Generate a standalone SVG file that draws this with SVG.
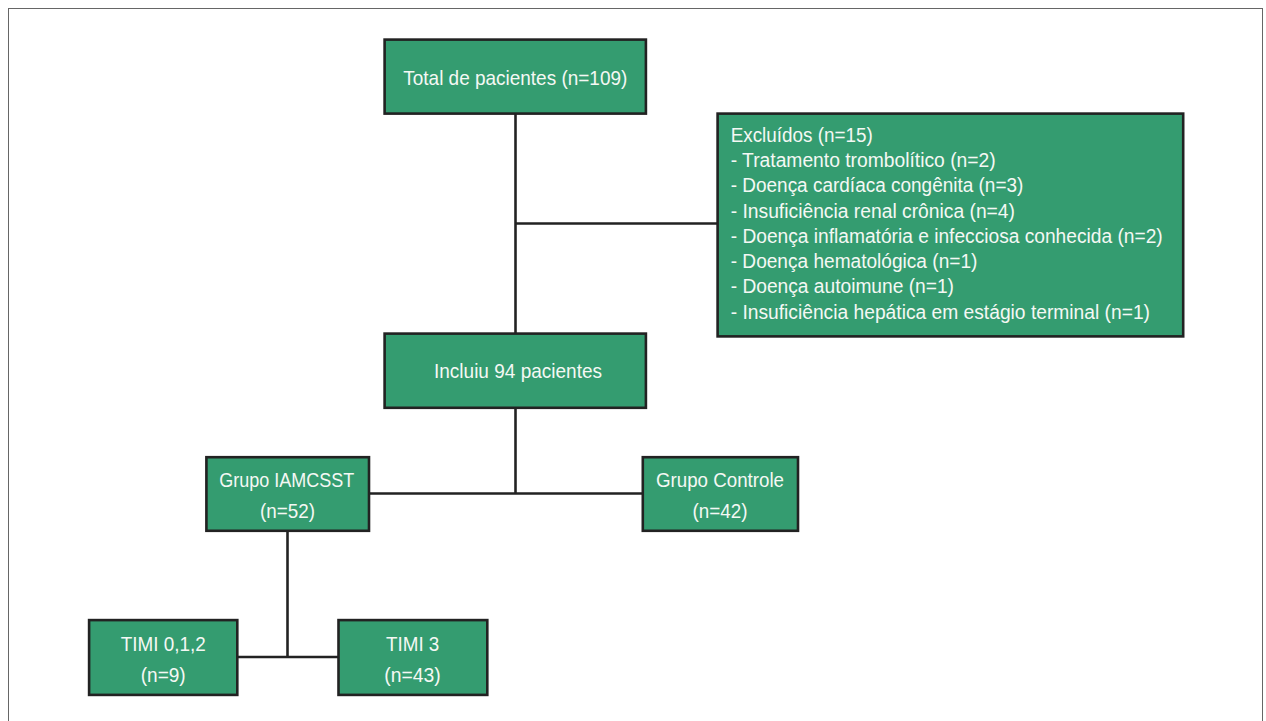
<svg xmlns="http://www.w3.org/2000/svg" width="1266" height="721" viewBox="0 0 1266 721">
<style>
.box{fill:#349c70;stroke:#222;stroke-width:2.6}
.t{font-family:"Liberation Sans Narrow","Liberation Sans",Arial,sans-serif;fill:#f4f8f4;font-size:21px}
.l{font-size:19.5px}
.conn line{stroke:#222;stroke-width:2.6}
</style>
<rect x="0" y="0" width="1266" height="721" fill="#fff"/>
<rect x="8.5" y="8.5" width="1254" height="730" fill="none" stroke="#666" stroke-width="1"/>
<g id="connectors" class="conn">
<line x1="515.5" y1="114" x2="515.5" y2="333"/>
<line x1="515.5" y1="223.5" x2="717" y2="223.5"/>
<line x1="515.5" y1="408" x2="515.5" y2="493.5"/>
<line x1="370" y1="493.5" x2="642" y2="493.5"/>
<line x1="287.5" y1="531" x2="287.5" y2="657"/>
<line x1="238" y1="657" x2="338" y2="657"/>
</g>
<g id="total">
<rect class="box" x="384.6" y="39.6" width="261.3" height="74"/>
<text class="t" x="403.3" y="85" textLength="224" lengthAdjust="spacingAndGlyphs">Total de pacientes (n=109)</text>
</g>
<g id="excluidos">
<rect class="box" x="717.6" y="113.6" width="465.6" height="222.8"/>
<text class="t l" x="730.7" y="141.7" textLength="142" lengthAdjust="spacingAndGlyphs">Excluídos (n=15)</text>
<text class="t l" x="730.7" y="166.9" textLength="265" lengthAdjust="spacingAndGlyphs">- Tratamento trombolítico (n=2)</text>
<text class="t l" x="730.7" y="192.2" textLength="292.7" lengthAdjust="spacingAndGlyphs">- Doença cardíaca congênita (n=3)</text>
<text class="t l" x="730.7" y="217.5" textLength="284.3" lengthAdjust="spacingAndGlyphs">- Insuficiência renal crônica (n=4)</text>
<text class="t l" x="730.7" y="242.8" textLength="432" lengthAdjust="spacingAndGlyphs">- Doença inflamatória e infecciosa conhecida (n=2)</text>
<text class="t l" x="730.7" y="268.1" textLength="246.7" lengthAdjust="spacingAndGlyphs">- Doença hematológica (n=1)</text>
<text class="t l" x="730.7" y="293.4" textLength="223.3" lengthAdjust="spacingAndGlyphs">- Doença autoimune (n=1)</text>
<text class="t l" x="730.7" y="318.7" textLength="419.3" lengthAdjust="spacingAndGlyphs">- Insuficiência hepática em estágio terminal (n=1)</text>
</g>
<g id="incluiu">
<rect class="box" x="384.6" y="333.6" width="261.3" height="74.2"/>
<text class="t" x="434" y="378.3" textLength="168" lengthAdjust="spacingAndGlyphs">Incluiu 94 pacientes</text>
</g>
<g id="iamcsst">
<rect class="box" x="206.4" y="457.2" width="162.6" height="73.6"/>
<text class="t" x="219.3" y="486.7" textLength="135" lengthAdjust="spacingAndGlyphs">Grupo IAMCSST</text>
<text class="t" x="260" y="517.7" textLength="55" lengthAdjust="spacingAndGlyphs">(n=52)</text>
</g>
<g id="controle">
<rect class="box" x="642.8" y="457.2" width="155.2" height="73.6"/>
<text class="t" x="656" y="486.7" textLength="128" lengthAdjust="spacingAndGlyphs">Grupo Controle</text>
<text class="t" x="692.5" y="517.7" textLength="55" lengthAdjust="spacingAndGlyphs">(n=42)</text>
</g>
<g id="timi012">
<rect class="box" x="89.1" y="620.1" width="148.2" height="74.8"/>
<text class="t" x="120.7" y="650.7" textLength="85" lengthAdjust="spacingAndGlyphs">TIMI 0,1,2</text>
<text class="t" x="140.7" y="681.7" textLength="45" lengthAdjust="spacingAndGlyphs">(n=9)</text>
</g>
<g id="timi3">
<rect class="box" x="338.5" y="620.1" width="148.8" height="74.8"/>
<text class="t" x="386" y="650.7" textLength="53.3" lengthAdjust="spacingAndGlyphs">TIMI 3</text>
<text class="t" x="384.3" y="681.7" textLength="56.4" lengthAdjust="spacingAndGlyphs">(n=43)</text>
</g>
</svg>
